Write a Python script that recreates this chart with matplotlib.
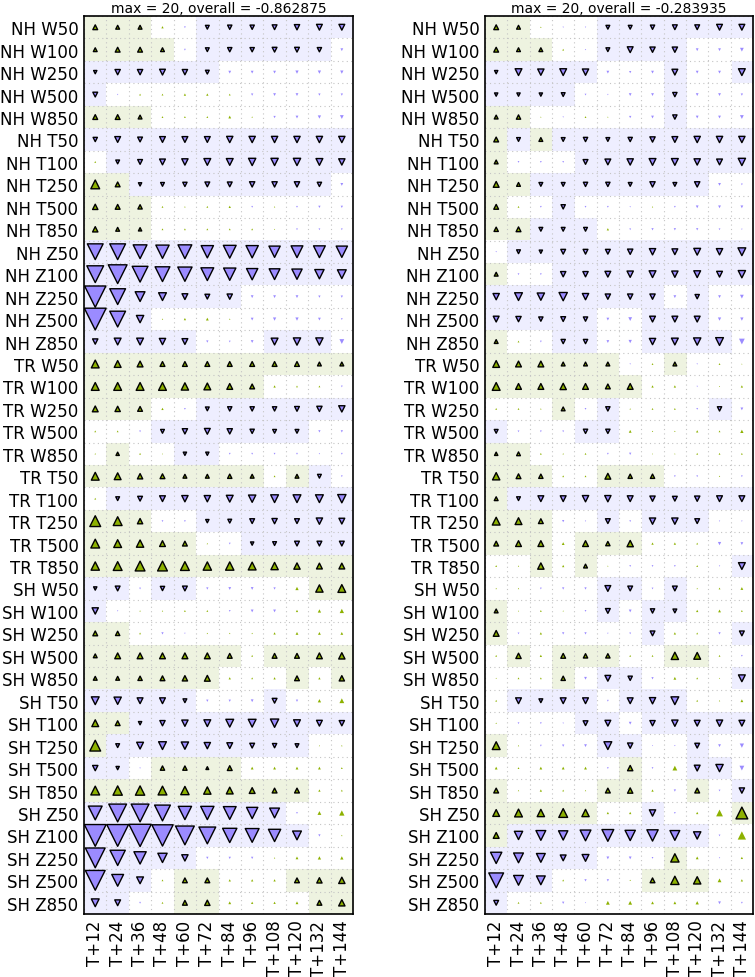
import numpy as np
import matplotlib
matplotlib.use("Agg")
import matplotlib.pyplot as plt
from matplotlib.colors import to_rgb

# Scorecard: relative change per region/field and lead time (two experiments)

wind_temp = ["W50", "W100", "W250", "W500", "W850",
             "T50", "T100", "T250", "T500", "T850"]
heights = ["Z50", "Z100", "Z250", "Z500", "Z850"]
row_labels = (["NH " + f for f in wind_temp + heights]
              + ["TR " + f for f in wind_temp]
              + ["SH " + f for f in wind_temp + heights])
lead_times = ["T+12", "T+24", "T+36", "T+48", "T+60", "T+72",
              "T+84", "T+96", "T+108", "T+120", "T+132", "T+144"]

left_title = "max = 20, overall = -0.862875"
right_title = "max = 20, overall = -0.283935"

left_vals = [
    [4, 3, 3, 1.5, -1, -3, -3.5, -3.5, -4, -4.5, -5, -5],
    [3, 4, 4, 3, -1, -3, -3.5, -3.5, -4, -4, -3.5, -2],
    [-2.5, -4.5, -4.5, -5, -4.5, -3, -2, -2, -2, -2.5, -2.5, -2.5],
    [-4, -0.5, 1, 1, 1.5, 1.5, 1, -1.5, -2, -2, -1.5, -1.5],
    [4, 4, 3, 1, 1, 1, 2, 0.5, -1.5, -2, -2.5, -3],
    [-3.5, -5, -4, -5, -5, -5, -5.5, -5.5, -5.5, -5.5, -5.5, -5.5],
    [1, -3, -4, -5, -5.5, -6, -6, -6.5, -6.5, -6.5, -6, -5.5],
    [8, 4, -2.5, -3, -3.5, -4, -4, -4.5, -4.5, -4.5, -3.5, -2],
    [4.5, 4, 3.5, 1, 0.5, 1, 1.5, -1, 0.5, -1, -1.5, -1.5],
    [4.5, 3, 2.5, 1, 1, 1, 1, 1, 0.3, -1, -1, -1],
    [-15, -15, -13, -12.5, -13, -11.5, -12, -11.5, -10.5, -11, -11, -10.5],
    [-16, -18, -15, -14, -13.5, -12, -11.5, -10.5, -10, -9.5, -8.5, -8],
    [-20.5, -15, -9, -7, -5, -4, -4.5, -2, -2, -2, -1.5, -1.5],
    [-21, -15, -6.5, 0.5, 1.5, 2, 0.5, -2, -2.5, -2.5, -2, -1],
    [-4.5, -6, -6, -5.5, -5, -1.5, -1, -2, -6, -6.5, -6.5, -4],
    [7, 6, 5, 4, 4, 4, 4, 4, 4, 4, 3, 3],
    [7, 7, 7, 7, 6.5, 6, 5, 4, 1.5, 1, 1, -1],
    [5, 4.5, 4, 1.5, -1, -3, -3.5, -3.5, -3.5, -4, -4.5, -5.5],
    [1, 1, -1, -3, -4.5, -5, -4.5, -3.5, -3, -3, -1.5, -1.5],
    [0.5, 2.5, 1, 0.2, -2.5, -2.5, -1, -1, -1, -1, -0.5, -1],
    [7, 6, 4.5, 4, 3, 3, 3.5, 3, 1, 3, -3, -1],
    [1, -3, -4, -5, -5.5, -5.5, -6, -6.5, -7, -7, -7, -7.5],
    [10, 8, 4.5, -1, -1, -2.5, -3, -4, -4.5, -4, -5.5, -5],
    [8, 7, 6.5, 5, 4, 0.5, -1, -2.5, -3, -4, -4, -4],
    [7.5, 8, 9, 9, 8, 7.5, 7.5, 7, 6.5, 5.5, 5, 5],
    [-2.5, -4, -1, -3.5, -4, -1.5, -2, -2, -1.5, 2.5, 6.5, 7],
    [-5.5, -0.5, 0.5, 0.5, 1, 1, -1, -2, -2, 1.5, 2.5, 3.5],
    [4, 3.5, 1, -1.5, -0.5, 0.5, 0.5, 0.5, 1.5, 2, 2, 2],
    [3, 5, 5, 5, 5, 5, 4, 1, 4, 4, 5, 5.5],
    [3, 3, 3.5, 4, 4.5, 5, 1.5, 1, 1.5, 4, 1.5, 4.5],
    [-7, -6.5, -5, -5, -3, -1.5, -1.5, -2, -4, -1.5, 2.5, 4],
    [6, 4, -2.5, -4.5, -5.5, -6, -7, -7, -7.5, -6, -5, -4.5],
    [10, -3, -6, -7, -6.5, -5.5, -5, -4, -3.5, -3, 0.3, 0.5],
    [-4.5, -2.5, -0.5, 3.5, 3.5, 2, 4, 2, 2, 2, 2, 1],
    [8, 8.5, 8.5, 8, 7.5, 6.5, 6, 5, 4, 4, 1.5, 1],
    [-13, -17, -17, -15, -12.5, -12.5, -12, -10.5, -9, -1, 3, 4.5],
    [-21, -21, -21.5, -20.5, -18, -16, -13.5, -13, -11.5, -8, -1.5, 0.5],
    [-19, -14.5, -11.5, -8.5, -5.5, -1.5, -1.5, -1.5, 0.5, 2, 2.5, 2.5],
    [-19, -11, -6, 1, 4, 4, 1.5, 1.5, 1.5, 4, 4.5, 5.5],
    [-7, -5, -1, 1, 4, 4.5, 2, 1.5, 1.5, 2, 4, 5.5],
]
left_sig = [
    "111001111111", "111101111110", "111111000000", "100000000000", "111000000000",
    "111111111111", "011111111111", "111111111110", "111000000000", "111000000000",
    "111111111111", "111111111111", "111111100000", "111000000000", "111110001110",
    "111111111111", "111111110000", "111001111111", "000111111100", "010011000000",
    "111111110110", "011111111111", "111001111111", "111110011111", "111111111111",
    "110110000011", "100000000000", "110000000000", "111111101111", "111111000101",
    "111110001000", "111111111111", "111111111100", "110111100000", "111111111100",
    "111111111000", "111111111100", "111110000000", "111011000111", "110011000011",
]

right_vals = [
    [4, 3, 0.5, -0.5, -0.5, -3, -3, -3.5, -4, -4, -5, -5],
    [4, 3, 3, 1, -0.5, -3, -5, -4.5, -4.5, -2, -2, -3],
    [-2.5, -6, -5.5, -6, -5.5, -2, -1.5, -2, -5, -2, -2, -6],
    [-2.5, -2.5, -2.5, -3, -1, -0.5, -2, -2, -3.5, -2, -2, -1.5],
    [3, 3.5, 0.3, -0.5, 1, 0.3, -1.5, -2, -3.5, -2, -2, -3],
    [4, -3, 3, -3, -3.5, -3, -3.5, -4.5, -5, -5.5, -5.5, -5.5],
    [3, -1, -1, -1, -4, -5, -5.5, -6, -6, -5.5, -5, -6.5],
    [5, 3, -3, -3, -3.5, -3.5, -3, -4.5, -3, -4.5, -2, -1],
    [4, 1, -1, -3.5, -1, -1, -0.5, 0.5, -1, -2, -2, -2],
    [3.5, 4, -3, -3, -3, 1.5, -1, -1.5, -1.5, -1.5, -1, -0.5],
    [-0.5, -3, -2.5, -4, -4, -4, -4.5, -5.5, -5, -6, -5.5, -7],
    [3, -1, -1, -4.5, -4.5, -5, -5.5, -6, -5.5, -6, -5, -6.5],
    [-5.5, -7, -6.5, -7.5, -5.5, -4.5, -4.5, -4.5, -2, -3.5, -2, -3],
    [-5, -4.5, -3.5, -4, -3.5, -2, -3, -5, -5, -5, -2.5, -2.5],
    [3, 1, -1, -3.5, -3.5, -2, -2.5, -5.5, -6, -6.5, -7, -5],
    [6, 5, 5, 3, 3, 3, -0.5, 1, 3, -0.5, 1, 0.2],
    [7, 5, 5, 5.5, 5, 4, 5, 1.5, 1.5, -0.5, 0.3, 1.5],
    [1, 1, 0.5, 3, -1, -3.5, 0.5, 1, 1, -1, -3.5, -2],
    [-3, -1, -1, -1, -3.5, -3.5, 2, 0.5, 0.5, 1.5, 1, 2.5],
    [2.5, 3, 1, 0.5, 1, -1, -1.5, 0.2, 0.3, 1, 1, 1],
    [6.5, 4, 3.5, 1, 1, 5, 3.5, 3.5, -1, -1, 0.5, -1],
    [3, -3, -5, -5, -5.5, -5.5, -5, -4.5, -4, -4.5, -5, -5],
    [7, 6, 4, -1.5, -0.5, -4, -1, -5.5, -5.5, -4, -0.5, -0.5],
    [4, 5, 5, 2, 5, 3.5, 5.5, 1.5, 1.5, 1, -2.5, -2],
    [1, 0.5, 5.5, 1.5, 3, 0.3, -1, -1, -1, 1, -0.5, -6],
    [0.5, 0.5, -1, -1.5, -1.5, -5, -4, -1, -4, 0.5, 1, 2],
    [3, 0.3, 1, 0.3, -1, -4, -2, -3.5, -3, 1.5, 2, 1],
    [5, -1, 1.5, -1.5, -1.5, -0.5, -1, -4, 1.5, 1, -1.5, -4],
    [1, 4.5, 1.5, 4, 3.5, 3.5, 1, 1, 6.5, 6, 1, -1],
    [0.3, 1, 1, 3.5, -2, -5, -3.5, -1.5, 2, 1, 0.3, -6],
    [1, -5, -3, -5, -5, -1, -5, -5.5, -7, 1, 0.5, 2],
    [0.5, -1, -1, -0.5, -4, -5, -2, -4.5, -5.5, -5, -5.5, -5],
    [7, 0.5, -1, -1.5, -2, -7, -4.5, -0.3, -0.5, -4, -2, -3.5],
    [2, 1, 2, 2, 2, -1, 4.5, -1, 4, -5, -6.5, -4],
    [4, 0.5, 1.5, 1, 0.5, 4, 4.5, 1.5, -1.5, 4, -1, -4.5],
    [6, 7, 6.5, 8, 6.5, 1.5, 1.5, -5.5, -1, 1.5, 6, 11],
    [5, -7.5, -9, -8.5, -10, -11, -9.5, -10.5, -9, -6.5, -1, 7.5],
    [-10.5, -9, -8, -5, -6, -2, -2, -1, 7.5, 2, -0.5, 1.5],
    [-14, -9, -8, 1, -1.5, -1.5, 0.5, 4, 7.5, 6.5, 3, 1.5],
    [-4, 1, 1, -1.5, -0.3, 3, 3, 2, 2, 2.5, -2, -1],
]
right_sig = [
    "110001111111", "111001111000", "111110001001", "111100001000", "110000001000",
    "111111111111", "100011111111", "111111111100", "100100000000", "111110000000",
    "011111111111", "100111111111", "111111110100", "111110011100", "100110011110",
    "111111001000", "111111100000", "000101000010", "100011000000", "110000000000",
    "111001110000", "111111111111", "111001011100", "111011100000", "001010000001",
    "000001101000", "100001011000", "100000010001", "010111001100", "000101100001",
    "011110111000", "000011011111", "100001100100", "000000100110", "100001100101",
    "111110010001", "111111111100", "111110001000", "111000011100", "100000000000",
]

GREEN = "#8db100"
PURPLE = "#9b8bff"
GREEN_BG = "#eef3e0"
PURPLE_BG = "#eeeeff"
PT_PER_UNIT = 0.72  # one unit ~ one pixel of triangle width at dpi 100


def draw_panel(ax, values, sig_rows, title):
    vals = np.array(values, dtype=float)
    sig = np.array([[c == "1" for c in s] for s in sig_rows])
    nrow, ncol = vals.shape

    # shaded background for significant cells
    bg = np.ones((nrow, ncol, 3))
    bg[sig & (vals > 0)] = to_rgb(GREEN_BG)
    bg[sig & (vals < 0)] = to_rgb(PURPLE_BG)
    ax.imshow(bg, aspect="auto", interpolation="nearest",
              extent=(-0.5, ncol - 0.5, nrow - 0.5, -0.5), zorder=0)

    rows, cols = np.indices(vals.shape)
    for mask, marker, color in [(vals > 0, "^", GREEN), (vals <= 0, "v", PURPLE)]:
        ms = (np.abs(vals[mask]) + 0.8) * PT_PER_UNIT
        edges = ["black" if s else "none" for s in sig[mask]]
        ax.scatter(cols[mask], rows[mask], s=ms ** 2, marker=marker,
                   c=color, edgecolors=edges, linewidths=1.0, zorder=3)

    ax.set_xlim(-0.5, ncol - 0.5)
    ax.set_ylim(nrow - 0.5, -0.5)
    ax.set_xticks(range(ncol))
    ax.set_xticklabels(lead_times, rotation=90, fontsize=12)
    ax.set_yticks(range(nrow))
    ax.set_yticklabels(row_labels, fontsize=12)
    ax.set_xticks(np.arange(-0.5, ncol, 1), minor=True)
    ax.set_yticks(np.arange(-0.5, nrow, 1), minor=True)
    ax.grid(which="minor", linestyle=(0, (1, 3)), color="#c4c4c4",
            linewidth=0.8, zorder=1)
    ax.set_axisbelow(False)
    ax.tick_params(which="both", length=0, pad=4)
    for sp in ax.spines.values():
        sp.set_linewidth(1.2)
        sp.set_zorder(5)
    ax.set_title(title, fontsize=10, pad=3)


fig = plt.figure(figsize=(7.55, 9.78), dpi=100)
ax1 = fig.add_axes([0.1113, 0.0644, 0.3563, 0.9182])
ax2 = fig.add_axes([0.6424, 0.0644, 0.3550, 0.9182])
draw_panel(ax1, left_vals, left_sig, left_title)
draw_panel(ax2, right_vals, right_sig, right_title)

fig.savefig("out.png", dpi=100)
